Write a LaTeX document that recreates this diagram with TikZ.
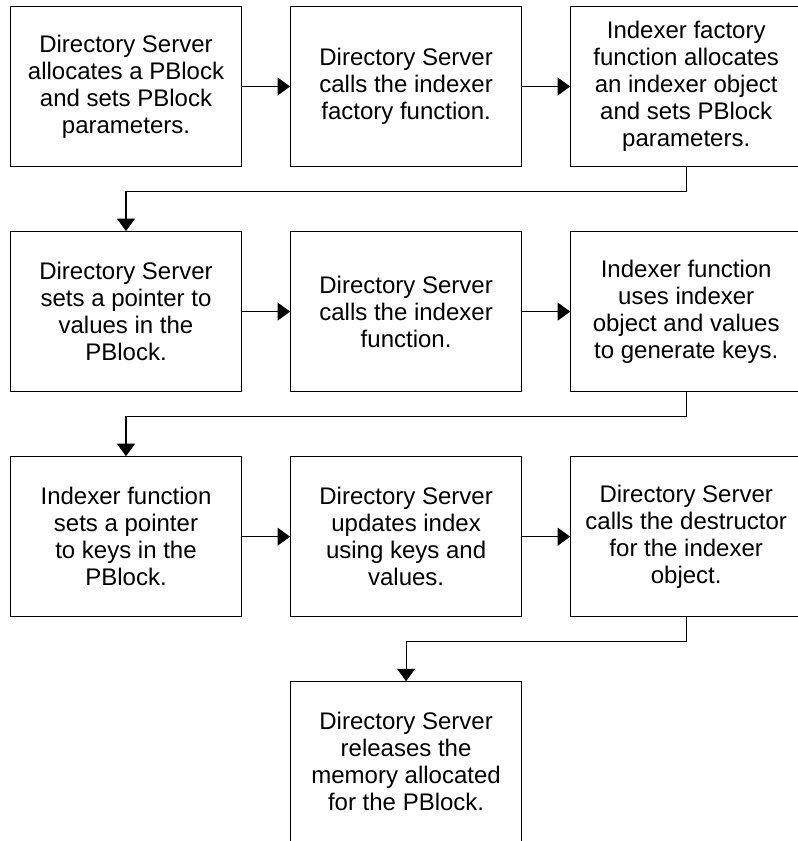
\documentclass[tikz,border=0pt]{standalone}
\usepackage{fontspec}
\setmainfont{Liberation Sans}
\usetikzlibrary{arrows.meta, positioning}

\begin{document}
\begin{tikzpicture}[
        x = 1pt, y = -1pt,
        node distance = 64pt and 48pt,
        > = {Triangle[width=18pt,length=12.5pt]},
        line width = 1.1pt,
        stepbox/.style = {
            draw,
            rectangle,
            minimum width = 231pt,
            minimum height = 160pt,
            align = center,
            inner sep = 0pt,
            font = \fontsize{24}{27}\selectfont
        }
    ]

        \useasboundingbox (0,0) rectangle (798,841);

        \node[stepbox] (alloc) at (126,86.5) {Directory Server\\allocates a PBlock\\and sets PBlock\\parameters.};
        \node[stepbox, right=of alloc] (factory) {Directory Server\\calls the indexer\\factory function.};
        \node[stepbox, right=of factory] (object) {Indexer factory\\function allocates\\an indexer object\\and sets PBlock\\parameters.};

        \node[stepbox, below=of alloc] (values) {Directory Server\\sets a pointer to\\values in the\\PBlock.};
        \node[stepbox, right=of values] (indexer) {Directory Server\\calls the indexer\\function.};
        \node[stepbox, right=of indexer] (genkeys) {Indexer function\\uses indexer\\object and values\\to generate keys.};

        \node[stepbox, below=of values] (keys) {Indexer function\\sets a pointer\\to keys in the\\PBlock.};
        \node[stepbox, right=of keys] (update) {Directory Server\\updates index\\using keys and\\values.};
        \node[stepbox, right=of update] (destroy) {Directory Server\\calls the destructor\\for the indexer\\object.};

        \node[stepbox, below=of update] (release) {Directory Server\\releases the\\memory allocated\\for the PBlock.};

        \draw[->] (alloc) -- (factory);
        \draw[->] (factory) -- (object);
        \draw[->] (object.south) -- ++(0,-24pt) -| (values.north);

        \draw[->] (values) -- (indexer);
        \draw[->] (indexer) -- (genkeys);
        \draw[->] (genkeys.south) -- ++(0,-24pt) -| (keys.north);

        \draw[->] (keys) -- (update);
        \draw[->] (update) -- (destroy);
        \draw[->] (destroy.south) -- ++(0,-24pt) -| (release.north);

    \end{tikzpicture}
\end{document}
